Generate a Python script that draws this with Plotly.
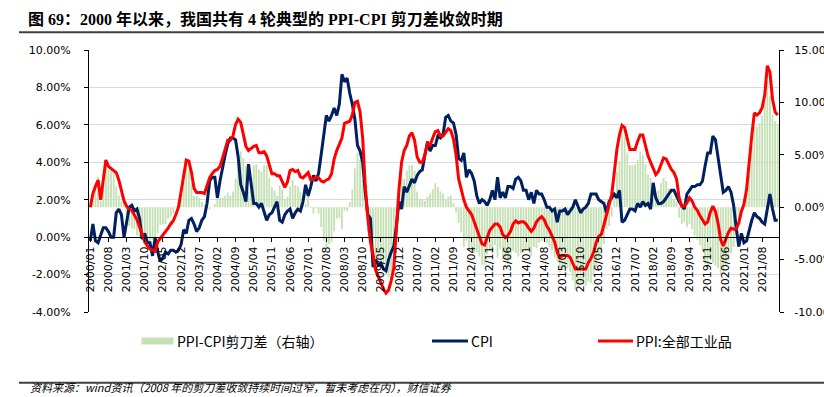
import plotly.graph_objects as go

# ---------------- data ----------------
MONTHS = [f"{y}/{m:02d}" for y in range(2000, 2022) for m in range(1, 13)] + ["2022/01", "2022/02"]

CPI = [
    -0.2, 0.7, -0.2, -0.3, 0.1, 0.5, 0.5, 0.3, 0.0, 0.0, 1.3, 1.5,      # 2000
    1.2, 0.0, 0.8, 1.6, 1.7, 1.4, 1.5, 1.0, -0.1, 0.2, -0.3, -0.3,      # 2001
    -1.0, 0.0, -0.8, -1.3, -1.1, -0.8, -0.9, -0.7, -0.7, -0.8, -0.7, -0.4,  # 2002
    0.4, 0.2, 0.9, 1.0, 0.7, 0.3, 0.5, 0.9, 1.1, 1.8, 3.0, 3.2,         # 2003
    3.2, 2.1, 3.0, 3.8, 4.4, 5.0, 5.3, 5.3, 5.2, 4.3, 2.8, 2.4,         # 2004
    1.9, 3.9, 2.7, 1.8, 1.8, 1.6, 1.8, 1.3, 0.9, 1.2, 1.3, 1.6,         # 2005
    1.9, 0.9, 0.8, 1.2, 1.4, 1.5, 1.0, 1.3, 1.5, 1.4, 1.9, 2.8,         # 2006
    2.2, 2.7, 3.3, 3.0, 3.4, 4.4, 5.6, 6.5, 6.2, 6.5, 6.9, 6.5,         # 2007
    7.1, 8.7, 8.3, 8.5, 7.7, 7.1, 6.3, 4.9, 4.6, 4.0, 2.4, 1.2,         # 2008
    1.0, -1.6, -1.2, -1.5, -1.4, -1.7, -1.8, -1.2, -0.8, -0.5, 0.6, 1.9,  # 2009
    1.5, 2.7, 2.4, 2.8, 3.1, 2.9, 3.3, 3.5, 3.6, 4.4, 5.1, 4.6,         # 2010
    4.9, 4.9, 5.4, 5.3, 5.5, 6.4, 6.5, 6.2, 6.1, 5.5, 4.2, 4.1,         # 2011
    4.5, 3.2, 3.6, 3.4, 3.0, 2.2, 1.8, 2.0, 1.9, 1.7, 2.0, 2.5,         # 2012
    2.0, 3.2, 2.1, 2.4, 2.1, 2.7, 2.7, 2.6, 3.1, 3.2, 3.0, 2.5,         # 2013
    2.5, 2.0, 2.4, 1.8, 2.5, 2.3, 2.3, 2.0, 1.6, 1.6, 1.4, 1.5,         # 2014
    0.8, 1.4, 1.4, 1.5, 1.2, 1.4, 1.6, 2.0, 1.6, 1.3, 1.5, 1.6,         # 2015
    1.8, 2.3, 2.3, 2.3, 2.0, 1.9, 1.8, 1.3, 1.9, 2.1, 2.3, 2.1,         # 2016
    2.5, 0.8, 0.9, 1.2, 1.5, 1.5, 1.4, 1.8, 1.6, 1.9, 1.7, 1.8,         # 2017
    1.5, 2.9, 2.1, 1.8, 1.8, 1.9, 2.1, 2.3, 2.5, 2.5, 2.2, 1.9,         # 2018
    1.7, 1.5, 2.3, 2.5, 2.7, 2.7, 2.8, 2.8, 3.0, 3.8, 4.5, 4.5,         # 2019
    5.4, 5.2, 4.3, 3.3, 2.4, 2.5, 2.7, 2.4, 1.7, 0.5, -0.5, 0.2,        # 2020
    -0.3, -0.2, 0.4, 0.9, 1.3, 1.1, 1.0, 0.8, 0.7, 1.5, 2.3, 1.5,       # 2021
    0.9, 0.9,                                                           # 2022
]

PPI = [
    0.0, 1.3, 2.0, 2.6, 0.7, 2.8, 4.5, 3.9, 3.7, 3.5, 3.3, 2.6,         # 2000
    1.7, 0.6, 0.1, -0.2, -0.3, -0.7, -1.2, -1.9, -2.6, -3.3, -3.7, -4.0,  # 2001
    -4.1, -4.2, -3.3, -3.0, -2.7, -2.4, -2.0, -1.6, -1.3, -0.7, 0.0, 1.5,  # 2002
    2.9, 4.5, 4.4, 3.3, 1.8, 1.4, 1.4, 1.4, 1.3, 2.0, 2.8, 3.2,         # 2003
    3.5, 3.6, 3.9, 4.7, 5.5, 6.4, 6.4, 6.8, 7.9, 8.4, 8.1, 7.1,         # 2004
    5.8, 5.4, 5.6, 5.8, 5.9, 5.2, 5.2, 5.3, 4.9, 4.0, 3.2, 3.2,         # 2005
    3.0, 3.0, 2.5, 1.9, 2.4, 3.5, 3.6, 3.4, 3.5, 2.9, 2.8, 3.1,         # 2006
    3.3, 2.6, 2.7, 2.9, 2.8, 2.5, 2.4, 2.6, 2.7, 3.2, 4.6, 5.4,         # 2007
    6.1, 6.6, 8.0, 8.1, 8.2, 8.8, 10.0, 10.1, 9.1, 6.6, 2.0, -1.1,      # 2008
    -3.3, -4.5, -6.0, -6.6, -7.2, -7.8, -8.2, -7.9, -7.0, -5.8, -2.1, 1.7,  # 2009
    4.3, 5.4, 5.9, 6.8, 7.1, 6.4, 4.8, 4.3, 4.3, 5.0, 6.1, 5.9,         # 2010
    6.6, 7.2, 7.3, 6.8, 6.8, 7.1, 7.5, 7.3, 6.5, 5.0, 2.7, 1.7,         # 2011
    0.7, 0.0, -0.3, -0.7, -1.4, -2.1, -2.9, -3.5, -3.6, -2.8, -2.2, -1.9,  # 2012
    -1.6, -1.6, -1.9, -2.6, -2.9, -2.7, -2.3, -1.6, -1.3, -1.5, -1.4, -1.4,  # 2013
    -1.6, -2.0, -2.3, -2.0, -1.4, -1.1, -0.9, -1.2, -1.8, -2.2, -2.7, -3.3,  # 2014
    -4.3, -4.8, -4.6, -4.6, -4.6, -4.8, -5.4, -5.9, -5.9, -5.9, -5.9, -5.9,  # 2015
    -5.3, -4.9, -4.3, -3.4, -2.8, -2.6, -1.7, -0.8, 0.1, 1.2, 3.3, 5.5,  # 2016
    6.9, 7.8, 7.6, 6.4, 5.5, 5.5, 5.5, 6.3, 6.9, 6.9, 5.8, 4.9,         # 2017
    4.3, 3.7, 3.1, 3.4, 4.1, 4.7, 4.6, 4.1, 3.6, 3.3, 2.7, 0.9,         # 2018
    0.1, 0.1, 0.4, 0.9, 0.6, 0.0, -0.3, -0.8, -1.2, -1.6, -1.4, -0.5,   # 2019
    0.1, -0.4, -1.5, -3.1, -3.7, -3.0, -2.4, -2.0, -2.1, -2.1, -1.5, -0.4,  # 2020
    0.3, 1.7, 4.4, 6.8, 9.0, 8.8, 9.0, 9.5, 10.7, 13.5, 12.9, 10.3,     # 2021
    9.1, 8.8,                                                           # 2022
]

# PPI-CPI scissors gap (definition of the bar series)
SPREAD = [round(p - c, 2) for p, c in zip(PPI, CPI)]

TICK_LABELS = MONTHS[::7]
LEFT_TICKS = [-4, -2, 0, 2, 4, 6, 8, 10]
LEFT_TEXT = ["-4.00%", "-2.00%", "0.00%", "2.00%", "4.00%", "6.00%", "8.00%", "10.00%"]
RIGHT_TICKS = [-10, -5, 0, 5, 10, 15]
RIGHT_TEXT = ["-10.00%", "-5.00%", "0.00%", "5.00%", "10.00%", "15.00%"]

TITLE = "图 69：2000 年以来，我国共有 4 轮典型的 PPI-CPI 剪刀差收敛时期"
SOURCE = "资料来源：wind资讯（2008 年的剪刀差收敛持续时间过窄，暂未考虑在内），财信证券"
NAMES = ["PPI-CPI剪刀差（右轴）", "CPI", "PPI:全部工业品"]

# ---------------- style ----------------
GREEN = "#C5E0B4"
NAVY = "#002060"
RED = "#FF0000"
W, H = 824, 397
PL, PT, PW, PH = 89, 50, 690, 262
TICKFONT = dict(family="DejaVu Sans", size=11, color="#000000")
CJK = "Noto Sans CJK SC"


def fx(px):
    return (px - PL) / PW


def fy(py):
    return (PT + PH - py) / PH


fig = go.Figure()
fig.add_trace(go.Bar(x=MONTHS, y=SPREAD, name=NAMES[0], marker=dict(color=GREEN, line=dict(width=0)),
                     yaxis="y", showlegend=False))
fig.add_trace(go.Scatter(x=MONTHS, y=CPI, name=NAMES[1], mode="lines", line=dict(color=NAVY, width=3),
                         yaxis="y2", showlegend=False))
fig.add_trace(go.Scatter(x=MONTHS, y=PPI, name=NAMES[2], mode="lines", line=dict(color=RED, width=3),
                         yaxis="y3", showlegend=False))

shapes = [
    dict(type="line", xref="paper", yref="paper", x0=fx(19), x1=fx(824), y0=fy(32.3), y1=fy(32.3),
         line=dict(color="#404040", width=2)),
    dict(type="line", xref="paper", yref="paper", x0=fx(19), x1=fx(824), y0=fy(382.7), y1=fy(382.7),
         line=dict(color="#404040", width=2)),
    dict(type="rect", xref="paper", yref="paper", x0=fx(141.5), x1=fx(173.5), y0=fy(344.5), y1=fy(337.5),
         fillcolor=GREEN, line=dict(width=0)),
    dict(type="line", xref="paper", yref="paper", x0=fx(432), x1=fx(468), y0=fy(341), y1=fy(341),
         line=dict(color=NAVY, width=3)),
    dict(type="line", xref="paper", yref="paper", x0=fx(598), x1=fx(633), y0=fy(341), y1=fy(341),
         line=dict(color=RED, width=3)),
]

annotations = [
    dict(text=NAMES[0], x=fx(175), y=fy(341), xref="paper", yref="paper", xanchor="left", yanchor="middle",
         showarrow=False, font=dict(family=CJK, size=14, color="#000000")),
    dict(text=NAMES[1], x=fx(469), y=fy(341), xref="paper", yref="paper", xanchor="left", yanchor="middle",
         showarrow=False, font=dict(family=CJK, size=14, color="#000000")),
    dict(text=NAMES[2], x=fx(634), y=fy(341), xref="paper", yref="paper", xanchor="left", yanchor="middle",
         showarrow=False, font=dict(family=CJK, size=14, color="#000000")),
    dict(text="<i>" + SOURCE + "</i>", x=fx(28), y=fy(396.5), xref="paper", yref="paper", xanchor="left",
         yanchor="bottom", showarrow=False, font=dict(family=CJK, size=11, color="#000000")),
]

fig.update_layout(
    width=W, height=H,
    margin=dict(l=PL, r=W - PL - PW, t=PT, b=H - PT - PH, pad=0, autoexpand=False),
    paper_bgcolor="white", plot_bgcolor="white",
    title=dict(text="<b>" + TITLE + "</b>", xref="container", yref="container",
               x=28 / W, y=1 - 19 / H, xanchor="left", yanchor="middle",
               font=dict(family="Liberation Serif, " + CJK, size=16, color="#000000")),
    bargap=0.3,
    showlegend=False,
    hovermode=False,
    shapes=shapes,
    annotations=annotations,
    xaxis=dict(type="category", range=[-0.5, len(MONTHS) - 0.5], tickmode="array",
               tickvals=TICK_LABELS, ticktext=TICK_LABELS, tickangle=-90,
               anchor="free", position=4 / 14, showline=True, linecolor="#000000", linewidth=1,
               ticks="outside", ticklen=4, tickcolor="#000000", tickfont=TICKFONT,
               showgrid=False, zeroline=False, automargin=False),
    yaxis=dict(side="right", range=[-10, 15], tickmode="array", tickvals=RIGHT_TICKS, ticktext=RIGHT_TEXT,
               showgrid=False, zeroline=False, showline=True, linecolor="#000000", linewidth=1,
               ticks="outside", ticklen=4, tickcolor="#000000", tickfont=TICKFONT, ticklabelstandoff=8,
               automargin=False),
    yaxis2=dict(overlaying="y", side="left", range=[-4, 10], tickmode="array", tickvals=LEFT_TICKS,
                ticktext=LEFT_TEXT, showgrid=True, gridcolor="#D9D9D9", gridwidth=1, zeroline=False,
                showline=True, linecolor="#000000", linewidth=1, ticks="outside", ticklen=4,
                tickcolor="#000000", tickfont=TICKFONT, ticklabelstandoff=11, automargin=False),
    yaxis3=dict(overlaying="y", range=[-10, 15], visible=False, automargin=False),
)

fig.write_html(
    "out.html",
    config={"displayModeBar": False, "staticPlot": True},
    post_script="document.body.style.margin='0';document.body.style.padding='0';"
                "document.body.style.overflow='hidden';",
)
